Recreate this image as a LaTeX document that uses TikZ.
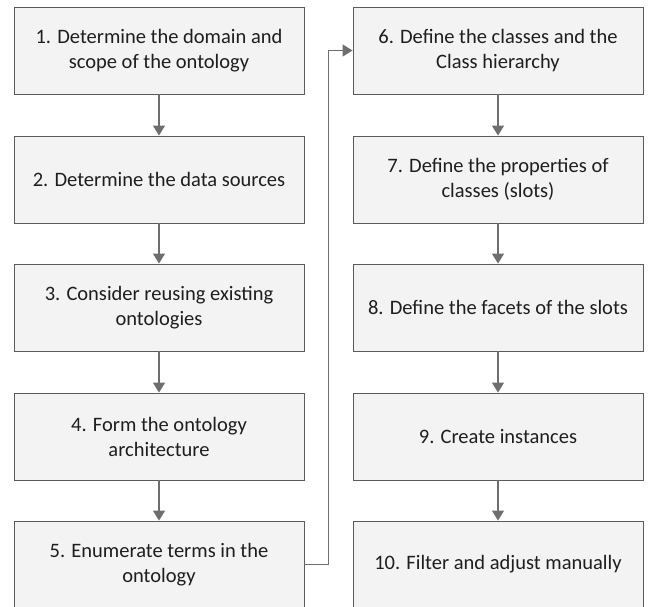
\documentclass[tikz,border=0pt]{standalone}
\usepackage{fontspec}
\setmainfont{Carlito}
\usetikzlibrary{arrows.meta}
\definecolor{boxfill}{HTML}{F3F3F3}
\definecolor{boxline}{HTML}{5A5A5A}
\definecolor{arrowcol}{HTML}{6E6E6E}
\definecolor{txt}{HTML}{1E1E1E}
\begin{document}
\begin{tikzpicture}[x=1pt,y=-1pt,
  stepbox/.style={draw=boxline,line width=0.9pt,fill=boxfill,minimum width=290pt,minimum height=87pt,
    inner sep=0pt,align=center,font=\fontsize{20.5}{25}\selectfont,text=txt},
  flow/.style={draw=arrowcol,line width=1.2pt,-{Triangle[width=12pt,length=10pt]}}]
\useasboundingbox (0,0) rectangle (648,606);
\node[stepbox] (n1) at (159,50.5) {1. Determine the domain and\\scope of the ontology};
\node[stepbox] (n2) at (159,179.5) {2. Determine the data sources};
\node[stepbox] (n3) at (159,307.5) {3. Consider reusing existing\\ontologies};
\node[stepbox] (n4) at (159,436.5) {4. Form the ontology\\architecture};
\node[stepbox] (n5) at (159,564.5) {5. Enumerate terms in the\\ontology};
\node[stepbox] (n6) at (498,50.5) {6. Define the classes and the\\Class hierarchy};
\node[stepbox] (n7) at (498,179.5) {7. Define the properties of\\classes (slots)};
\node[stepbox] (n8) at (498,307.5) {8. Define the facets of the slots};
\node[stepbox] (n9) at (498,436.5) {9. Create instances};
\node[stepbox] (n10) at (498,564.5) {10. Filter and adjust manually};
\draw[flow] (n1) -- (n2);
\draw[flow] (n2) -- (n3);
\draw[flow] (n3) -- (n4);
\draw[flow] (n4) -- (n5);
\draw[flow] (n6) -- (n7);
\draw[flow] (n7) -- (n8);
\draw[flow] (n8) -- (n9);
\draw[flow] (n9) -- (n10);
\draw[flow] (n5.east) -- ++(24,0) |- (n6.west);
\end{tikzpicture}
\end{document}
